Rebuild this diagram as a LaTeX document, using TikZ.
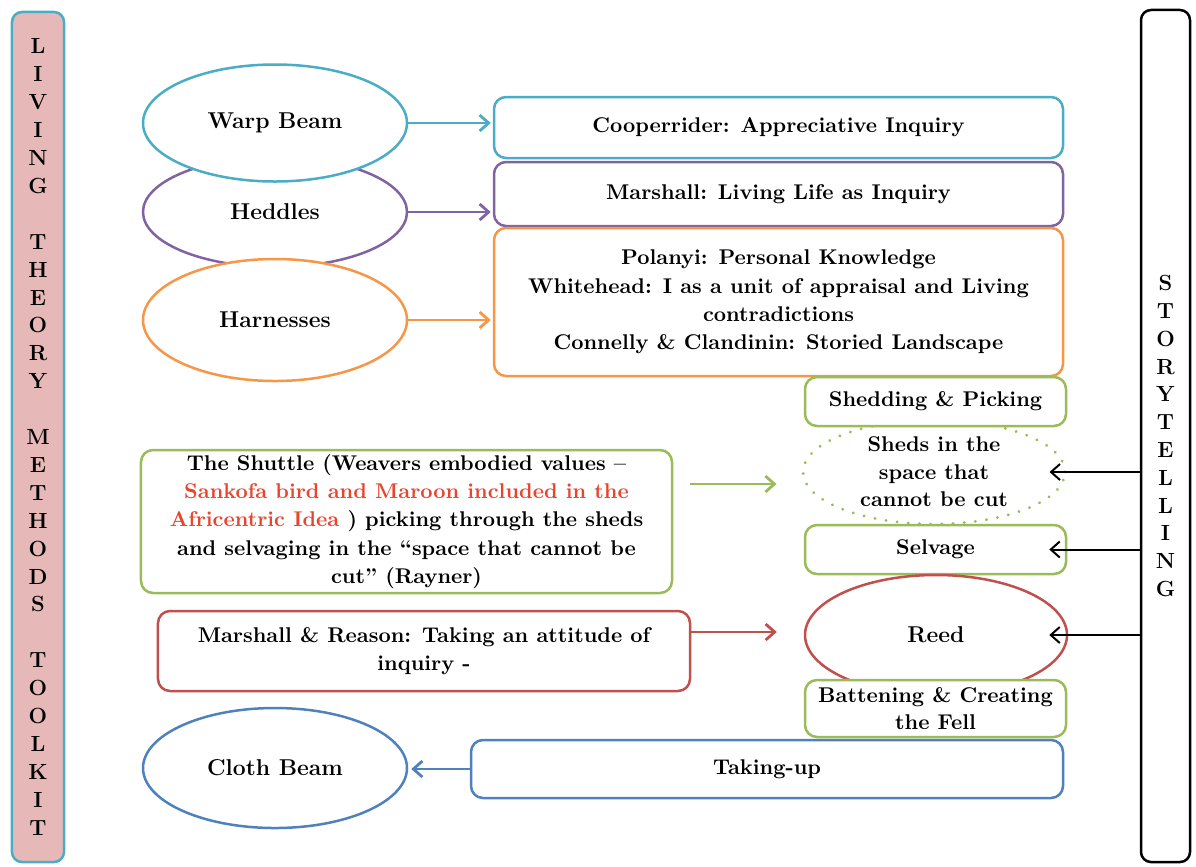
\documentclass[tikz,border=0pt]{standalone}
\usepackage{tikz}
\usetikzlibrary{shapes,arrows,arrows.meta,positioning,calc}

\definecolor{warpcol}{HTML}{4BACC6}
\definecolor{heddlecol}{HTML}{8064A2}
\definecolor{harnesscol}{HTML}{F79646}
\definecolor{shuttlecol}{HTML}{9BBB59}
\definecolor{reedcol}{HTML}{C0504D}
\definecolor{clothcol}{HTML}{4F81BD}
\definecolor{sankofacol}{HTML}{E8452F}
\definecolor{livingfill}{HTML}{E6B9B8}

\tikzset{
  beam/.style={draw=#1,ellipse,fill=white,line width=1.25bp,inner sep=0pt,
    minimum width=132bp,align=center,font=\fontsize{11.5}{14}\selectfont\bfseries},
  card/.style={draw=#1,rectangle,rounded corners=6bp,fill=white,line width=1.25bp,
    inner sep=0pt,align=center,font=\fontsize{10.7}{14.2}\selectfont\bfseries},
  flow/.style={draw=#1,line width=1.4bp,->},
  bar/.style={rectangle,rounded corners=5bp,line width=1.25bp,inner sep=0pt,
    align=center,font=\fontsize{11}{#1}\selectfont\bfseries},
}

\begin{document}
\begin{tikzpicture}[x=0.5bp,y=-0.5bp,>={Straight Barb[length=4.5bp,width=8bp]},line join=round]
%%
\useasboundingbox (0,0) rectangle (1196,866);
\node (living) at (38,437) [bar=14,draw=warpcol,fill=livingfill,minimum width=26bp,minimum height=425bp]
  {L\\I\\V\\I\\N\\G\\[14bp]T\\H\\E\\O\\R\\Y\\[14bp]M\\E\\T\\H\\O\\D\\S\\[14bp]T\\O\\O\\L\\K\\I\\T};
\node (story) at (1165.5,436) [bar=13.95,draw=black,fill=white,minimum width=24.5bp,minimum height=426bp]
  {S\\T\\O\\R\\Y\\T\\E\\L\\L\\I\\N\\G};
%
\node (heddles) at (275,212) [beam=heddlecol,minimum height=55bp] {Heddles};
\node (warp) at (275,123) [beam=warpcol,minimum height=58.5bp] {Warp Beam};
\node (harness) at (275,320) [beam=harnesscol,minimum height=61bp] {Harnesses};
\node (coop) at (778.5,127.5) [card=warpcol,minimum width=284.5bp,minimum height=30.5bp]
  {Cooperrider: Appreciative Inquiry};
\node (marsh) at (778.5,194) [card=heddlecol,minimum width=284.5bp,minimum height=32bp]
  {Marshall: Living Life as Inquiry};
\node (polanyi) at (778.5,302) [card=harnesscol,minimum width=284.5bp,minimum height=74bp]
  {Polanyi: Personal Knowledge\\Whitehead: I as a unit of appraisal and Living\\contradictions\\Connelly \& Clandinin: Storied Landscape};
%
\node (sheds) at (934,472) [beam=shuttlecol,minimum width=131bp,minimum height=52bp,
  dash pattern=on 0.1bp off 5.5bp,line cap=round,line width=1.5bp,font=\fontsize{10.7}{13.8}\selectfont\bfseries]
  {Sheds in the\\space that\\cannot be cut};
\node (shedding) at (935.5,401.5) [card=shuttlecol,minimum width=130.5bp,minimum height=24.5bp] {Shedding \& Picking};
\node (selvage) at (935.5,549.5) [card=shuttlecol,minimum width=130.5bp,minimum height=24.5bp] {Selvage};
\node (reed) at (936,635) [beam=reedcol,minimum width=131bp,minimum height=60bp] {Reed};
\node (batten) at (935.5,708.5) [card=shuttlecol,minimum width=130.5bp,minimum height=28.5bp,
  font=\fontsize{10.7}{13.5}\selectfont\bfseries] {Battening \& Creating\\the Fell};
%
\node (shuttle) at (406.5,521.5) [card=shuttlecol,minimum width=265.5bp,minimum height=71.5bp]
  {The Shuttle (Weavers embodied values --\\
   \textcolor{sankofacol}{Sankofa bird and Maroon included in the}\\
   \textcolor{sankofacol}{Africentric Idea} ) picking through the sheds\\
   and selvaging in the ``space that cannot be\\cut'' (Rayner)};
\node (reason) at (424,651) [card=reedcol,minimum width=266bp,minimum height=40bp]
  {Marshall \& Reason: Taking an attitude of\\inquiry -};
\node (cloth) at (275,768) [beam=clothcol,minimum height=60bp] {Cloth Beam};
\node (takeup) at (767,769) [card=clothcol,minimum width=296bp,minimum height=29bp] {Taking-up};
%
\coordinate (shuttleout) at (690,484);
\coordinate (reasonout) at (690,632);
\draw [flow=warpcol,shorten >=1bp] (warp.east) -- (warp.east -| coop.west);
\draw [flow=heddlecol,shorten >=1bp] (heddles.east) -- (heddles.east -| marsh.west);
\draw [flow=harnesscol,shorten >=1bp] (harness.east) -- (harness.east -| polanyi.west);
\draw [flow=shuttlecol,shorten >=12.5bp] (shuttleout) -- (shuttleout -| sheds.west);
\draw [flow=reedcol,shorten >=13.5bp] (reasonout) -- (reasonout -| reed.west);
\draw [flow=clothcol,shorten >=1.5bp] (takeup.west) -- (takeup.west -| cloth.east);
\draw [->,line width=1bp,shorten >=-8.5bp] (story.west |- sheds.east) -- (sheds.east);
\draw [->,line width=1bp,shorten >=-9bp] (story.west |- selvage.east) -- (selvage.east);
\draw [->,line width=1bp,shorten >=-9.5bp] (story.west |- reed.east) -- (reed.east);
%
\end{tikzpicture}
\end{document}
